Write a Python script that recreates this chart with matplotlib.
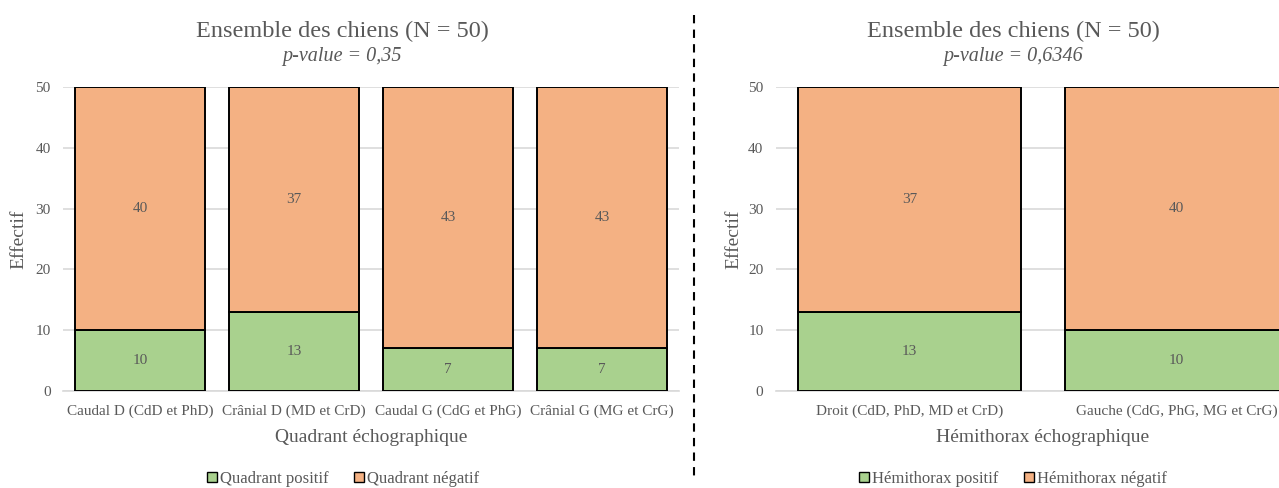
import matplotlib.pyplot as plt
from matplotlib.patches import Patch
from matplotlib.lines import Line2D

# data
quad_labels = ['Caudal D (CdD et PhD)', 'Crânial D (MD et CrD)',
               'Caudal G (CdG et PhG)', 'Crânial G (MG et CrG)']
quad_pos = [10, 13, 7, 7]
quad_neg = [40, 37, 43, 43]

hemi_labels = ['Droit (CdD, PhD, MD et CrD)', 'Gauche (CdG, PhG, MG et CrG)']
hemi_pos = [13, 10]
hemi_neg = [37, 40]

yticks = [0, 10, 20, 30, 40, 50]

GREEN = '#A9D18E'
ORANGE = '#F4B183'
GREY = '#595959'
GRID = '#D9D9D9'

plt.rcParams['font.family'] = ['Liberation Serif', 'DejaVu Serif']

W, H = 1279, 488
fig = plt.figure(figsize=(W / 100, H / 100), dpi=100)


def px_axes(x0, x1, y_top, y_bot):
    return fig.add_axes([x0 / W, 1 - y_bot / H, (x1 - x0) / W, (y_bot - y_top) / H])


def draw_panel(ax, labels, pos, neg, xlabel, width):
    x = list(range(len(labels)))
    ax.bar(x, pos, width=width, color=GREEN, edgecolor='black', linewidth=1.4, zorder=3)
    ax.bar(x, neg, bottom=pos, width=width, color=ORANGE, edgecolor='black', linewidth=1.4, zorder=3)
    for i in x:
        ax.text(i, pos[i] / 2, str(pos[i]), ha='center', va='center', color=GREY, fontsize=11, zorder=4)
        ax.text(i, pos[i] + neg[i] / 2, str(neg[i]), ha='center', va='center', color=GREY, fontsize=11, zorder=4)
    ax.set_xlim(-0.5, len(labels) - 0.5)
    ax.set_ylim(0, 50)
    ax.set_yticks(yticks)
    ax.set_xticks(x)
    ax.set_xticklabels(labels)
    ax.yaxis.grid(True, color=GRID, linewidth=1.2, zorder=0)
    ax.set_axisbelow(True)
    for s in ['top', 'right', 'left']:
        ax.spines[s].set_visible(False)
    ax.spines['bottom'].set_color(GRID)
    ax.spines['bottom'].set_linewidth(1.2)
    ax.tick_params(length=0, colors=GREY, labelsize=11)
    ax.tick_params(axis='y', pad=9)
    ax.tick_params(axis='x', pad=10)
    ax.set_xlabel(xlabel, color=GREY, fontsize=14, labelpad=8)
    ax.set_ylabel('Effectif', color=GREY, fontsize=14)


ax1 = px_axes(63, 679, 87, 391)
draw_panel(ax1, quad_labels, quad_pos, quad_neg, 'Quadrant échographique', 0.838)
ax1.yaxis.set_label_coords((27 - 63) / 616, 0.5)

ax2 = px_axes(776, 1310, 87, 391)
draw_panel(ax2, hemi_labels, hemi_pos, hemi_neg, 'Hémithorax échographique', 0.833)
ax2.yaxis.set_label_coords((742 - 776) / 534, 0.5)

# titles
for cx, pval in [(342, '0,35'), (1013, '0,6346')]:
    fig.text(cx / W, 1 - 31 / H, 'Ensemble des chiens (N = 50)', ha='center', va='center',
             color=GREY, fontsize=17.5)
    fig.text(cx / W, 1 - 56 / H, f'p-value = {pval}', ha='center', va='center',
             color=GREY, fontsize=14.5, style='italic')

# legends
for cx, name in [(343, 'Quadrant'), (1013, 'Hémithorax')]:
    handles = [Patch(facecolor=GREEN, edgecolor='black', linewidth=1.0),
               Patch(facecolor=ORANGE, edgecolor='black', linewidth=1.0)]
    fig.legend(handles, [f'{name} positif', f'{name} négatif'], loc='center',
               bbox_to_anchor=(cx / W, 1 - 479 / H), ncol=2, frameon=False,
               handlelength=0.6, handleheight=0.6, handletextpad=0.2, columnspacing=1.5,
               labelcolor=GREY, prop={'size': 12})

# dashed separator
fig.add_artist(Line2D([694 / W, 694 / W], [1 - 15 / H, 1 - 478 / H], transform=fig.transFigure,
                      color='black', linestyle=(0, (4, 3)), linewidth=1.5))

fig.savefig('out.png', dpi=100)
